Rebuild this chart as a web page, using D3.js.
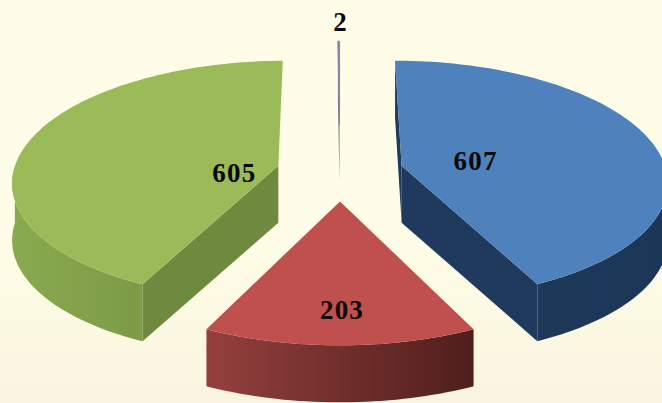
<!DOCTYPE html>
<html><head><meta charset="utf-8">
<script src="https://cdn.jsdelivr.net/npm/d3@7/dist/d3.min.js"></script>
<style>html,body{margin:0;padding:0;background:#fffde7}svg{display:block}</style>
</head><body><svg id="c" width="662" height="403"></svg>
<script>
const categories = ["A", "B", "C", "D"];
const values = [607, 203, 605, 2];
const topColors = ["#4f81bd", "#c0504d", "#9bbb59", "#8f7fa3"];
const edgeColors = ["#1f3a5c", "#5a2422", "#6e8a3f", "#7d7088"];
const wallFrom = ["#1f3a5c", "#94403d", "#8aaa4e", "#7d7088"];
const wallTo = ["#1c3658", "#4f1e1c", "#6e8a3f", "#7d7088"];

const W = 662, H = 403;
const cx = 340, cy = 172, Rx = 265, Ry = 119, persp = 0.12, depth = 57;
const explode = [0.24, 0.24, 0.24, 0.42];
const radius = [1, 1, 1, 0.847];
const labelShift = [[74, -5], [2, 109], [-44, 7], [1, -102]];
const showBackFace = [true, false, false, true];

const svg = d3.select("#c");
const defs = svg.append("defs");

const bg = defs.append("linearGradient").attr("id", "bg").attr("x1", 0).attr("x2", 0).attr("y1", 0).attr("y2", 1);
bg.append("stop").attr("offset", "0.6").attr("stop-color", "#fffde7");
bg.append("stop").attr("offset", "1").attr("stop-color", "#f9f4df");
svg.append("rect").attr("width", W).attr("height", H).attr("fill", "url(#bg)");

const sx = d3.scaleLinear().domain([-1, 1]).range([-Rx, Rx]);
const sy = d3.scaleLinear().domain([-1, 1]).range([-Ry, Ry]);
function project(u, v) {
  const s = 1 / (1 - persp * v);
  return [cx + sx(u) * s, cy + sy(v) * s];
}
const line = d3.line();
const pie = d3.pie().sort(null).value(d => d);
const arcs = pie(values);

arcs.forEach((a, i) => {
  const mid = (a.startAngle + a.endAngle) / 2;
  const ox = Math.sin(mid) * explode[i], oy = -Math.cos(mid) * explode[i];
  const apex = project(ox, oy);
  const n = Math.max(2, Math.ceil((a.endAngle - a.startAngle) * 40));
  const angles = d3.range(n + 1).map(k => a.startAngle + (a.endAngle - a.startAngle) * k / n);
  const at = t => project(ox + radius[i] * Math.sin(t), oy - radius[i] * Math.cos(t));
  const rim = angles.map(at);
  const frontRim = angles.filter(t => Math.cos(t) <= 0).map(at);
  const down = p => [p[0], p[1] + depth];
  const g = svg.append("g").attr("class", "slice").attr("data-category", categories[i]);

  const ext = d3.extent(rim, p => p[0]);
  const grad = defs.append("linearGradient").attr("id", "w" + i)
    .attr("gradientUnits", "userSpaceOnUse")
    .attr("x1", ext[0]).attr("x2", ext[1]).attr("y1", 0).attr("y2", 0);
  grad.append("stop").attr("offset", 0).attr("stop-color", wallFrom[i]);
  grad.append("stop").attr("offset", 1).attr("stop-color", wallTo[i]);

  // Each slice has one radial face toward the viewer; the face at the back is only sometimes visible.
  const nearFace = i === 0 ? rim[n] : rim[0];
  const backFace = i === 0 ? rim[0] : rim[n];
  const faces = showBackFace[i] ? [nearFace, backFace] : (i === 1 ? [] : [nearFace]);
  faces.forEach(p => {
    g.append("path").attr("fill", edgeColors[i])
      .attr("d", line([apex, p, down(p), down(apex)]) + "Z");
  });
  if (frontRim.length > 1) {
    g.append("path").attr("fill", "url(#w" + i + ")")
      .attr("d", line(frontRim.concat(frontRim.map(down).reverse())) + "Z");
  }
  g.append("path").attr("fill", topColors[i])
    .attr("stroke", i === 3 ? topColors[i] : "none").attr("stroke-width", i === 3 ? 1 : 0)
    .attr("d", line([apex].concat(rim)) + "Z");

  svg.append("text").attr("class", "label")
    .attr("x", apex[0] + labelShift[i][0]).attr("y", apex[1] + labelShift[i][1])
    .attr("text-anchor", "middle").attr("dominant-baseline", "central")
    .attr("font-family", "'Liberation Serif', serif").attr("font-weight", "bold")
    .attr("font-size", 27).attr("letter-spacing", 1.2).attr("fill", "#0a0a0a")
    .text(values[i]);
});
d3.selectAll("text.label").raise();
</script></body></html>
